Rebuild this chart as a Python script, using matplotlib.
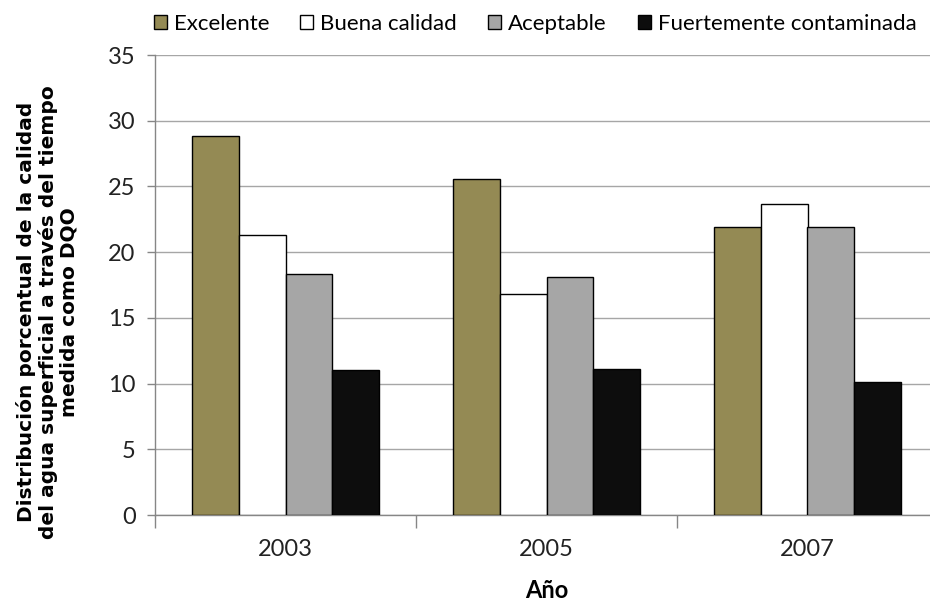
import matplotlib
matplotlib.use("Agg")
import matplotlib.pyplot as plt
import numpy as np

years = ["2003", "2005", "2007"]
series_names = ["Excelente", "Buena calidad", "Aceptable", "Fuertemente contaminada"]
excelente = [28.8, 25.6, 21.9]
buena = [21.3, 16.8, 23.7]
aceptable = [18.3, 18.1, 21.9]
fuerte = [11.0, 11.1, 10.1]
yticks = [0, 5, 10, 15, 20, 25, 30, 35]

colors = ["#948A54", "#FFFFFF", "#A6A6A6", "#0D0D0D"]
values = [excelente, buena, aceptable, fuerte]

tick_font = ["Lato", "DejaVu Sans"]

fig = plt.figure(figsize=(9.3, 6.04), dpi=100)
W, H = 930, 604
ax = fig.add_axes([155 / W, 1 - 515 / H, (938 - 155) / W, (515 - 55) / H])

x = np.arange(len(years))
bw = 0.18
handles = []
for i, (vals, col, name) in enumerate(zip(values, colors, series_names)):
    b = ax.bar(x + (i - 1.5) * bw, vals, bw, color=col, edgecolor="black",
               linewidth=1.0, label=name, zorder=3)
    handles.append(b)

ax.set_xlim(-0.5, 2.5)
ax.set_ylim(0, 35)
ax.set_yticks(yticks)
ax.set_yticklabels([str(t) for t in yticks], family=tick_font, fontsize=17, color="#222222")
ax.yaxis.grid(True, color="#A6A6A6", linewidth=1.0, zorder=0)
ax.set_axisbelow(True)

ax.set_xticks(x)
ax.set_xticklabels(years, family=tick_font, fontsize=17, color="#222222")
ax.tick_params(axis="x", which="major", length=0, pad=17)
ax.set_xticks([-0.5, 0.5, 1.5, 2.5], minor=True)
ax.tick_params(axis="x", which="minor", length=9, color="#868686", width=1)
ax.tick_params(axis="y", which="major", length=6, color="#868686", width=1, pad=8)

for s in ["top", "right"]:
    ax.spines[s].set_visible(False)
for s in ["left", "bottom"]:
    ax.spines[s].set_color("#868686")
    ax.spines[s].set_linewidth(1.0)

ax.set_xlabel("Año", family=tick_font, fontsize=17, fontweight="bold", labelpad=14)

fig.text(47 / W, 1 - 312 / H,
         "Distribución porcentual de la calidad\ndel agua superficial a través del tiempo\nmedida como DQO",
         rotation=90, ha="center", va="center", multialignment="center",
         fontsize=14.5, fontweight="bold", family=["DejaVu Sans"], linespacing=1.12)

leg = fig.legend(handles=handles, labels=series_names, loc="center", ncol=4,
                 bbox_to_anchor=(535 / W, 1 - 24 / H), frameon=False,
                 prop={"family": tick_font, "size": 16},
                 handlelength=0.6, handleheight=0.6, handletextpad=0.3,
                 columnspacing=1.4)

fig.savefig("out.png", dpi=100)
